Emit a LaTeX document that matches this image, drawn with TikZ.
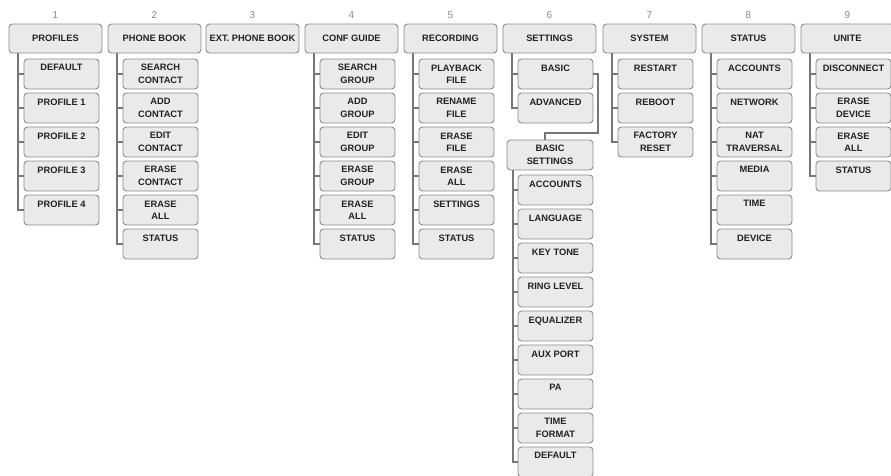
\documentclass[tikz,border=0pt]{standalone}
\usepackage{fontspec}
\setmainfont{Liberation Sans}
\definecolor{boxfill}{HTML}{EAEAEA}
\definecolor{boxline}{HTML}{8C8C8C}
\definecolor{connline}{HTML}{777777}
\definecolor{numgray}{HTML}{8A8A8A}
\definecolor{txt}{HTML}{222222}
\tikzset{
  topbox/.style={draw=boxline, fill=boxfill, rounded corners=3.5pt, line width=0.9pt,
    minimum width=93pt, minimum height=29pt, inner sep=0pt, text=txt,
    align=center, font=\bfseries\fontsize{9.3}{12.5}\selectfont},
  subbox/.style={draw=boxline, fill=boxfill, rounded corners=3.5pt, line width=0.9pt,
    minimum width=75pt, minimum height=30pt, inner sep=0pt, text=txt,
    align=center, font=\bfseries\fontsize{9.3}{12.5}\selectfont},
  conn/.style={draw=connline, line width=1.9pt},
  num/.style={text=numgray, inner sep=0pt, font=\fontsize{10}{12}\selectfont}
}
\newcommand\oneline[1]{#1\\\mbox{}}
\newcommand\mkcol[4]{%
  \node[num] (n#1) at (#2+46.5,15) {#1};
  \node[topbox] (c#1) at (#2+46.5,38.5) {#3};
  \foreach \t [count=\k] in {#4} {
    \node[subbox] (c#1-\k) at (#2+52.5,{74+34*(\k-1)}) {\t};
    \draw[conn] ([xshift=9pt]c#1.south west) |- (c#1-\k.west);
  }%
}
\begin{document}
\begin{tikzpicture}[x=1pt,y=-1pt]
\useasboundingbox (0,0) rectangle (891,475);
\mkcol{1}{9}{PROFILES}{{\oneline{DEFAULT}},{\oneline{PROFILE 1}},{\oneline{PROFILE 2}},{\oneline{PROFILE 3}},{\oneline{PROFILE 4}}}
\mkcol{2}{108}{PHONE BOOK}{{SEARCH\\CONTACT},{ADD\\CONTACT},{EDIT\\CONTACT},{ERASE\\CONTACT},{ERASE\\ALL},{\oneline{STATUS}}}
\node[num] (n3) at (206+46.5,15) {3};
\node[topbox] (c3) at (206+46.5,38.5) {EXT. PHONE BOOK};
\mkcol{4}{305}{CONF GUIDE}{{SEARCH\\GROUP},{ADD\\GROUP},{EDIT\\GROUP},{ERASE\\GROUP},{ERASE\\ALL},{\oneline{STATUS}}}
\mkcol{5}{404}{RECORDING}{{PLAYBACK\\FILE},{RENAME\\FILE},{ERASE\\FILE},{ERASE\\ALL},{\oneline{SETTINGS}},{\oneline{STATUS}}}
\mkcol{6}{503}{SETTINGS}{{\oneline{BASIC}},{\oneline{ADVANCED}}}
\mkcol{7}{603}{SYSTEM}{{\oneline{RESTART}},{\oneline{REBOOT}},{FACTORY\\RESET}}
\mkcol{8}{702}{STATUS}{{\oneline{ACCOUNTS}},{\oneline{NETWORK}},{NAT\\TRAVERSAL},{\oneline{MEDIA}},{\oneline{TIME}},{\oneline{DEVICE}}}
\mkcol{9}{801}{UNITE}{{\oneline{DISCONNECT}},{ERASE\\DEVICE},{ERASE\\ALL},{\oneline{STATUS}}}
% basic settings
\node[topbox, minimum width=86pt, minimum height=30pt] (bs) at (550,155) {BASIC\\SETTINGS};
\coordinate (j1) at (598,133);
\draw[conn] (c6-1.east) -| (j1) -- ([xshift=-5pt]bs.north |- j1) -- ([xshift=-5pt]bs.north);
\foreach \t [count=\k] in {{\oneline{ACCOUNTS}},{\oneline{LANGUAGE}},{\oneline{KEY TONE}},{\oneline{RING LEVEL}},{\oneline{EQUALIZER}},{\oneline{AUX PORT}},{\oneline{PA}},{TIME\\FORMAT},{\oneline{DEFAULT}}} {
  \node[subbox] (b\k) at (555.5,{190+34*(\k-1)}) {\t};
  \draw[conn] ([xshift=6pt]bs.south west) |- (b\k.west);
}
\end{tikzpicture}
\end{document}
